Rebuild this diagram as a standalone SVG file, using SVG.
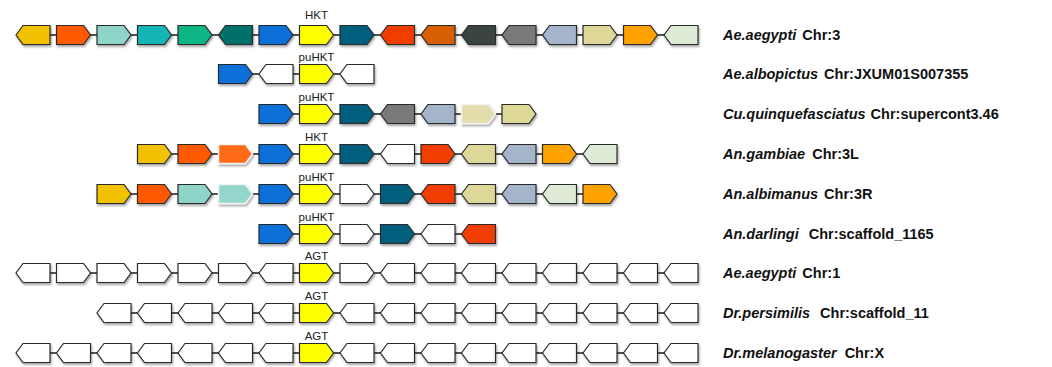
<svg xmlns="http://www.w3.org/2000/svg" xmlns:xlink="http://www.w3.org/1999/xlink" width="1052" height="367" viewBox="0 0 1052 367">
<style>
.g use{stroke:#2b2b2b;stroke-width:1.2;filter:url(#sh)}
.g use.ps{stroke:#f2f2f2;stroke-width:1.5}
.w{fill:#ffffff}
.lnk line{stroke:#1a1a1a;stroke-width:1.5}
.lab{font-family:"Liberation Sans",Arial,sans-serif;font-size:11.5px;fill:#222;text-anchor:middle}
.sp{font-family:"Liberation Sans",Arial,sans-serif;font-size:14.5px;font-weight:bold;fill:#111}
.sp .i{font-style:italic}
</style>
<defs>
<filter id="sh" x="-20%" y="-30%" width="150%" height="180%">
<feDropShadow dx="1" dy="2" stdDeviation="1.3" flood-color="#000" flood-opacity="0.35"/>
</filter>
<path id="R" d="M0,-9.5 H27 L34,0 L27,9.5 H0 Z"/>
<path id="L" d="M7,-9.5 H34 V9.5 H7 L0,0 Z"/>
</defs>
<rect width="1052" height="367" fill="#ffffff"/>
<g id="connectors" class="lnk">
<line x1="33" y1="35" x2="681" y2="35"/>
<line x1="235.5" y1="74" x2="357" y2="74"/>
<line x1="276" y1="114" x2="519" y2="114"/>
<line x1="154.5" y1="154" x2="600" y2="154"/>
<line x1="114" y1="194" x2="600" y2="194"/>
<line x1="276" y1="234" x2="478.5" y2="234"/>
<line x1="33" y1="273" x2="681" y2="273"/>
<line x1="114" y1="313" x2="681" y2="313"/>
<line x1="33" y1="353" x2="681" y2="353"/>
</g>
<!-- Row 1 -->
<g id="row1" class="g">
<g id="r1g0"><use href="#L" x="16" y="35" fill="#F2C200"/></g>
<g id="r1g1"><use href="#R" x="56.5" y="35" fill="#FF5A00"/></g>
<g id="r1g2"><use href="#R" x="97" y="35" fill="#8FD4C9"/></g>
<g id="r1g3"><use href="#R" x="137.5" y="35" fill="#16B5B5"/></g>
<g id="r1g4"><use href="#R" x="178" y="35" fill="#0DB584"/></g>
<g id="r1g5"><use href="#L" x="218.5" y="35" fill="#006F67"/></g>
<g id="r1g6"><use href="#R" x="259" y="35" fill="#0A6FD8"/></g>
<g id="r1g7"><use href="#R" x="299.5" y="35" fill="#FFFF00"/></g>
<g id="r1g8"><use href="#R" x="340" y="35" fill="#005F7C"/></g>
<g id="r1g9"><use href="#L" x="380.5" y="35" fill="#F23E00"/></g>
<g id="r1g10"><use href="#L" x="421" y="35" fill="#D85E00"/></g>
<g id="r1g11"><use href="#L" x="461.5" y="35" fill="#3B4440"/></g>
<g id="r1g12"><use href="#L" x="502" y="35" fill="#7A7A7A"/></g>
<g id="r1g13"><use href="#L" x="542.5" y="35" fill="#A4B4CB"/></g>
<g id="r1g14"><use href="#R" x="583" y="35" fill="#DDD898"/></g>
<g id="r1g15"><use href="#R" x="623.5" y="35" fill="#FFA200"/></g>
<g id="r1g16"><use href="#L" x="664" y="35" fill="#DDEBD6"/></g>
</g>
<!-- Row 2 -->
<g id="row2" class="g">
<g id="r2g5"><use href="#R" x="218.5" y="74" fill="#0A6FD8"/></g>
<g id="r2g6"><use href="#L" x="259" y="74" class="w"/></g>
<g id="r2g7"><use href="#R" x="299.5" y="74" fill="#FFFF00"/></g>
<g id="r2g8"><use href="#L" x="340" y="74" class="w"/></g>
</g>
<!-- Row 3 -->
<g id="row3" class="g">
<g id="r3g6"><use href="#R" x="259" y="114" fill="#0A6FD8"/></g>
<g id="r3g7"><use href="#R" x="299.5" y="114" fill="#FFFF00"/></g>
<g id="r3g8"><use href="#R" x="340" y="114" fill="#005F7C"/></g>
<g id="r3g9"><use href="#L" x="380.5" y="114" fill="#7A7A7A"/></g>
<g id="r3g10"><use href="#L" x="421" y="114" fill="#A4B4CB"/></g>
<g id="r3g11"><use href="#R" x="461.5" y="114" fill="#E2DDAA" class="ps"/></g>
<g id="r3g12"><use href="#R" x="502" y="114" fill="#DDD898"/></g>
</g>
<!-- Row 4 -->
<g id="row4" class="g">
<g id="r4g3"><use href="#R" x="137.5" y="154" fill="#F2C200"/></g>
<g id="r4g4"><use href="#R" x="178" y="154" fill="#FF5A00"/></g>
<g id="r4g5"><use href="#R" x="218.5" y="154" fill="#FF6A14" class="ps"/></g>
<g id="r4g6"><use href="#R" x="259" y="154" fill="#0A6FD8"/></g>
<g id="r4g7"><use href="#R" x="299.5" y="154" fill="#FFFF00"/></g>
<g id="r4g8"><use href="#R" x="340" y="154" fill="#005F7C"/></g>
<g id="r4g9"><use href="#L" x="380.5" y="154" class="w"/></g>
<g id="r4g10"><use href="#R" x="421" y="154" fill="#F23E00"/></g>
<g id="r4g11"><use href="#L" x="461.5" y="154" fill="#DDD898"/></g>
<g id="r4g12"><use href="#L" x="502" y="154" fill="#A4B4CB"/></g>
<g id="r4g13"><use href="#R" x="542.5" y="154" fill="#FFA200"/></g>
<g id="r4g14"><use href="#L" x="583" y="154" fill="#DDEBD6"/></g>
</g>
<!-- Row 5 -->
<g id="row5" class="g">
<g id="r5g2"><use href="#R" x="97" y="194" fill="#F2C200"/></g>
<g id="r5g3"><use href="#R" x="137.5" y="194" fill="#FF5A00"/></g>
<g id="r5g4"><use href="#R" x="178" y="194" fill="#8FD4C9"/></g>
<g id="r5g5"><use href="#R" x="218.5" y="194" fill="#95D6CC" class="ps"/></g>
<g id="r5g6"><use href="#R" x="259" y="194" fill="#0A6FD8"/></g>
<g id="r5g7"><use href="#R" x="299.5" y="194" fill="#FFFF00"/></g>
<g id="r5g8"><use href="#R" x="340" y="194" class="w"/></g>
<g id="r5g9"><use href="#R" x="380.5" y="194" fill="#005F7C"/></g>
<g id="r5g10"><use href="#L" x="421" y="194" fill="#F23E00"/></g>
<g id="r5g11"><use href="#L" x="461.5" y="194" fill="#DDD898"/></g>
<g id="r5g12"><use href="#L" x="502" y="194" fill="#A4B4CB"/></g>
<g id="r5g13"><use href="#L" x="542.5" y="194" fill="#DDEBD6"/></g>
<g id="r5g14"><use href="#R" x="583" y="194" fill="#FFA200"/></g>
</g>
<!-- Row 6 -->
<g id="row6" class="g">
<g id="r6g6"><use href="#R" x="259" y="234" fill="#0A6FD8"/></g>
<g id="r6g7"><use href="#R" x="299.5" y="234" fill="#FFFF00"/></g>
<g id="r6g8"><use href="#R" x="340" y="234" class="w"/></g>
<g id="r6g9"><use href="#R" x="380.5" y="234" fill="#005F7C"/></g>
<g id="r6g10"><use href="#L" x="421" y="234" class="w"/></g>
<g id="r6g11"><use href="#L" x="461.5" y="234" fill="#F23E00"/></g>
</g>
<!-- Row 7 -->
<g id="row7" class="g">
<g id="r7g0"><use href="#L" x="16" y="273" class="w"/></g>
<g id="r7g1"><use href="#R" x="56.5" y="273" class="w"/></g>
<g id="r7g2"><use href="#R" x="97" y="273" class="w"/></g>
<g id="r7g3"><use href="#R" x="137.5" y="273" class="w"/></g>
<g id="r7g4"><use href="#R" x="178" y="273" class="w"/></g>
<g id="r7g5"><use href="#R" x="218.5" y="273" class="w"/></g>
<g id="r7g6"><use href="#L" x="259" y="273" class="w"/></g>
<g id="r7g7"><use href="#R" x="299.5" y="273" fill="#FFFF00"/></g>
<g id="r7g8"><use href="#R" x="340" y="273" class="w"/></g>
<g id="r7g9"><use href="#L" x="380.5" y="273" class="w"/></g>
<g id="r7g10"><use href="#L" x="421" y="273" class="w"/></g>
<g id="r7g11"><use href="#L" x="461.5" y="273" class="w"/></g>
<g id="r7g12"><use href="#L" x="502" y="273" class="w"/></g>
<g id="r7g13"><use href="#L" x="542.5" y="273" class="w"/></g>
<g id="r7g14"><use href="#L" x="583" y="273" class="w"/></g>
<g id="r7g15"><use href="#L" x="623.5" y="273" class="w"/></g>
<g id="r7g16"><use href="#L" x="664" y="273" class="w"/></g>
</g>
<!-- Row 8 -->
<g id="row8" class="g">
<g id="r8g2"><use href="#L" x="97" y="313" class="w"/></g>
<g id="r8g3"><use href="#L" x="137.5" y="313" class="w"/></g>
<g id="r8g4"><use href="#L" x="178" y="313" class="w"/></g>
<g id="r8g5"><use href="#L" x="218.5" y="313" class="w"/></g>
<g id="r8g6"><use href="#L" x="259" y="313" class="w"/></g>
<g id="r8g7"><use href="#R" x="299.5" y="313" fill="#FFFF00"/></g>
<g id="r8g8"><use href="#L" x="340" y="313" class="w"/></g>
<g id="r8g9"><use href="#L" x="380.5" y="313" class="w"/></g>
<g id="r8g10"><use href="#L" x="421" y="313" class="w"/></g>
<g id="r8g11"><use href="#L" x="461.5" y="313" class="w"/></g>
<g id="r8g12"><use href="#L" x="502" y="313" class="w"/></g>
<g id="r8g13"><use href="#L" x="542.5" y="313" class="w"/></g>
<g id="r8g14"><use href="#L" x="583" y="313" class="w"/></g>
<g id="r8g15"><use href="#L" x="623.5" y="313" class="w"/></g>
<g id="r8g16"><use href="#L" x="664" y="313" class="w"/></g>
</g>
<!-- Row 9 -->
<g id="row9" class="g">
<g id="r9g0"><use href="#L" x="16" y="353" class="w"/></g>
<g id="r9g1"><use href="#L" x="56.5" y="353" class="w"/></g>
<g id="r9g2"><use href="#L" x="97" y="353" class="w"/></g>
<g id="r9g3"><use href="#L" x="137.5" y="353" class="w"/></g>
<g id="r9g4"><use href="#L" x="178" y="353" class="w"/></g>
<g id="r9g5"><use href="#L" x="218.5" y="353" class="w"/></g>
<g id="r9g6"><use href="#L" x="259" y="353" class="w"/></g>
<g id="r9g7"><use href="#R" x="299.5" y="353" fill="#FFFF00"/></g>
<g id="r9g8"><use href="#L" x="340" y="353" class="w"/></g>
<g id="r9g9"><use href="#L" x="380.5" y="353" class="w"/></g>
<g id="r9g10"><use href="#L" x="421" y="353" class="w"/></g>
<g id="r9g11"><use href="#L" x="461.5" y="353" class="w"/></g>
<g id="r9g12"><use href="#L" x="502" y="353" class="w"/></g>
<g id="r9g13"><use href="#L" x="542.5" y="353" class="w"/></g>
<g id="r9g14"><use href="#L" x="583" y="353" class="w"/></g>
<g id="r9g15"><use href="#L" x="623.5" y="353" class="w"/></g>
<g id="r9g16"><use href="#L" x="664" y="353" class="w"/></g>
</g>
<g id="gene-labels" class="lab">
<text x="316.5" y="19">HKT</text>
<text x="316.5" y="61">puHKT</text>
<text x="316.5" y="101">puHKT</text>
<text x="316.5" y="141">HKT</text>
<text x="316.5" y="181">puHKT</text>
<text x="316.5" y="221">puHKT</text>
<text x="316.5" y="260">AGT</text>
<text x="316.5" y="300">AGT</text>
<text x="316.5" y="340">AGT</text>
</g>
<g id="species-labels" class="sp">
<text x="723" y="40"><tspan class="i">Ae.aegypti</tspan><tspan dx="6">Chr:3</tspan></text>
<text x="723" y="79"><tspan class="i">Ae.albopictus</tspan><tspan dx="6">Chr:JXUM01S007355</tspan></text>
<text x="723" y="119"><tspan class="i">Cu.quinquefasciatus</tspan><tspan dx="5">Chr:supercont3.46</tspan></text>
<text x="723" y="159"><tspan class="i">An.gambiae</tspan><tspan dx="7">Chr:3L</tspan></text>
<text x="723" y="199"><tspan class="i">An.albimanus</tspan><tspan dx="6">Chr:3R</tspan></text>
<text x="723" y="239"><tspan class="i">An.darlingi</tspan><tspan dx="10">Chr:scaffold_1165</tspan></text>
<text x="723" y="278"><tspan class="i">Ae.aegypti</tspan><tspan dx="6">Chr:1</tspan></text>
<text x="723" y="318"><tspan class="i">Dr.persimilis</tspan><tspan dx="10">Chr:scaffold_11</tspan></text>
<text x="723" y="358"><tspan class="i">Dr.melanogaster</tspan><tspan dx="8">Chr:X</tspan></text>
</g>
</svg>
